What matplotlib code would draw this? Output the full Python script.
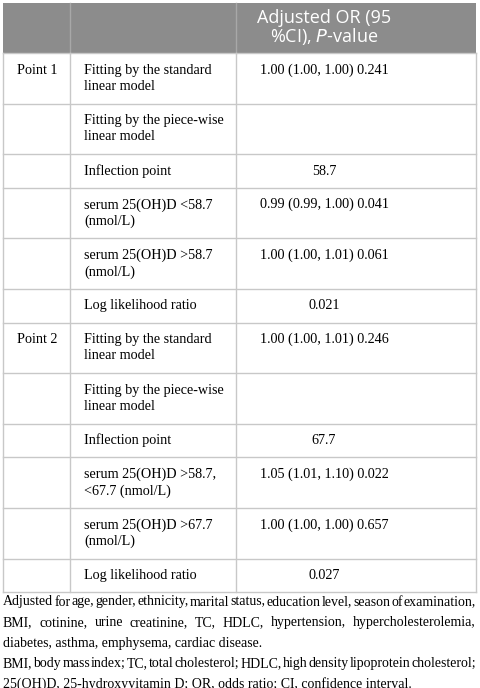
import matplotlib.pyplot as plt
from matplotlib.patches import Rectangle

header = ["", "", "Adjusted OR (95\n%CI), $\\it{P}$-value"]
col1 = ["Point 1", "", "", "", "", "", "Point 2", "", "", "", "", ""]
col2 = ["Fitting by the standard\nlinear model",
        "Fitting by the piece-wise\nlinear model",
        "Inflection point",
        "serum 25(OH)D <58.7\n(nmol/L)",
        "serum 25(OH)D >58.7\n(nmol/L)",
        "Log likelihood ratio",
        "Fitting by the standard\nlinear model",
        "Fitting by the piece-wise\nlinear model",
        "Inflection point",
        "serum 25(OH)D >58.7,\n<67.7 (nmol/L)",
        "serum 25(OH)D >67.7\n(nmol/L)",
        "Log likelihood ratio"]
col3 = ["1.00 (1.00, 1.00) 0.241", "", "58.7", "0.99 (0.99, 1.00) 0.041",
        "1.00 (1.00, 1.01) 0.061", "0.021", "1.00 (1.00, 1.01) 0.246", "",
        "67.7", "1.05 (1.01, 1.10) 0.022", "1.00 (1.00, 1.00) 0.657", "0.027"]
footnotes = [
    ["Adjusted for age, gender, ethnicity, marital status, education level, season of examination,",
     "BMI, cotinine, urine creatinine, TC, HDLC, hypertension, hypercholesterolemia,",
     "diabetes, asthma, emphysema, cardiac disease."],
    ["BMI, body mass index; TC, total cholesterol; HDLC, high density lipoprotein cholesterol;",
     "25(OH)D, 25-hydroxyvitamin D; OR, odds ratio; CI, confidence interval."],
]

W, H = 480, 688
fig = plt.figure(figsize=(W / 100, H / 100), dpi=100)
ax = fig.add_axes([0, 0, 1, 1])
ax.set_xlim(0, W)
ax.set_ylim(H, 0)
ax.axis("off")

xs = [3, 70, 236, 476]
top, head_bot, bot = 3, 53, 592
serif = "Liberation Serif"
sans = "Open Sans"
lc = "#c8c8c8"
fs = 10.2

# header band
ax.add_patch(Rectangle((xs[0], top), xs[-1] - xs[0], head_bot - top, color="#8c8c8c", lw=0))
for x in xs[1:-1]:
    ax.plot([x, x], [top, head_bot], color="#a8a8a8", lw=1)
ax.text(324, (top + head_bot) / 2, header[2], ha="center", va="center",
        color="white", fontsize=13, family=sans, linespacing=0.95)

# row heights: two-line rows taller than one-line rows
hts = [2 if "\n" in t else 1 for t in col2]
unit2, unit1 = 50.7, 33.5
tot = sum(unit2 if h == 2 else unit1 for h in hts)
scale = (bot - head_bot) / tot
y = head_bot
for a, b, c, h in zip(col1, col2, col3, hts):
    rh = (unit2 if h == 2 else unit1) * scale
    yc = y + rh / 2
    if c and h == 2:
        yc_c = y + 17
    else:
        yc_c = yc
    ax.text(17, y + 17 if h == 2 else yc, a, ha="left", va="center", fontsize=fs, family=serif)
    ax.text(84, yc, b, ha="left", va="center", fontsize=fs, family=serif, linespacing=1.3)
    ax.text(324, yc_c, c, ha="center", va="center", fontsize=fs, family=serif)
    y += rh
    ax.plot([xs[0], xs[-1]], [y, y], color=lc, lw=1)
ax.plot([xs[0], xs[-1]], [head_bot, head_bot], color=lc, lw=1)
for x in xs:
    ax.plot([x, x], [head_bot, bot], color=lc, lw=1)

# footnotes, justified except the last line of each paragraph
fig.canvas.draw()
r = fig.canvas.get_renderer()
fy = 602
for para in footnotes:
    for i, line in enumerate(para):
        if i == len(para) - 1:
            ax.text(xs[0], fy, line, ha="left", va="center", fontsize=10, family=serif)
        else:
            words = line.split()
            arts = [ax.text(0, fy, w, ha="left", va="center", fontsize=10, family=serif) for w in words]
            widths = [t.get_window_extent(r).width for t in arts]
            gap = (xs[-1] - xs[0] - sum(widths)) / (len(words) - 1)
            x = xs[0]
            for t, wd in zip(arts, widths):
                t.set_x(x)
                x += wd + gap
        fy += 20.5

fig.savefig("out.png", dpi=100)
